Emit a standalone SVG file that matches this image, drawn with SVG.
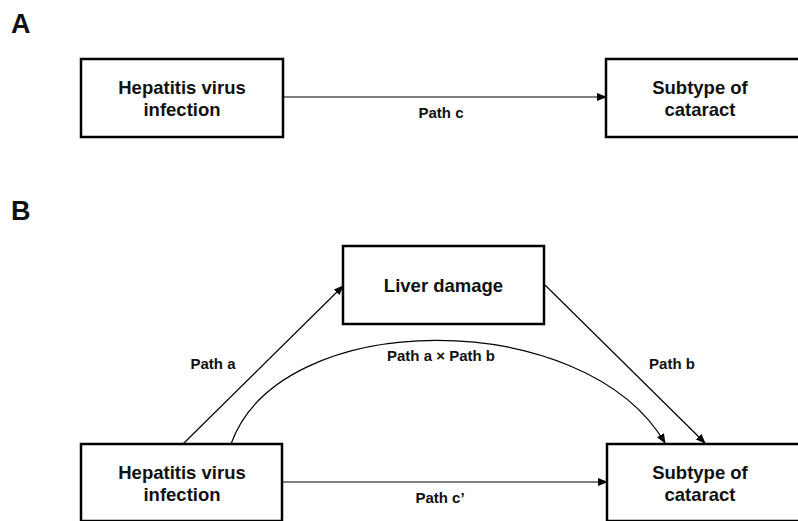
<svg xmlns="http://www.w3.org/2000/svg" width="798" height="521" viewBox="0 0 798 521">
<style>
.box{fill:#fff;stroke:#000;stroke-width:2.5}
.t{font-family:"Liberation Sans",Arial,sans-serif;font-weight:bold;fill:#111;text-anchor:middle}
.n{font-size:18.5px}
.l{font-size:15px}
.h{font-size:27px;text-anchor:start}
.c{fill:none;stroke:#000;stroke-width:1.2}
</style>
<defs>
<marker id="ah" markerWidth="10" markerHeight="8" refX="9" refY="4" orient="auto" markerUnits="userSpaceOnUse">
<path d="M0,0 L10,4 L0,8 z" fill="#000"/>
</marker>
</defs>
<rect width="798" height="521" fill="#fff"/>
<text class="t h" x="11" y="33">A</text>
<text class="t h" x="11" y="220">B</text>
<g id="connectors">
<line class="c" x1="283" y1="97" x2="606" y2="97" marker-end="url(#ah)"/>
<line class="c" x1="282" y1="482" x2="607" y2="482" marker-end="url(#ah)"/>
<line class="c" x1="183" y1="444" x2="343" y2="286" marker-end="url(#ah)"/>
<line class="c" x1="545" y1="285" x2="705" y2="443" marker-end="url(#ah)"/>
<path class="c" d="M231,444 C280,306 585,306 665,443" marker-end="url(#ah)"/>
<text class="t l" x="441" y="118">Path c</text>
<text class="t l" x="213" y="369">Path a</text>
<text class="t l" x="672" y="369">Path b</text>
<text class="t l" x="441" y="361">Path a × Path b</text>
<text class="t l" x="440" y="503">Path c’</text>
</g>
<g id="hepA">
<rect class="box" x="81" y="59" width="202" height="78"/>
<text class="t n" x="182" y="94">Hepatitis virus</text>
<text class="t n" x="182" y="116">infection</text>
</g>
<g id="catA">
<rect class="box" x="606" y="59" width="200" height="78"/>
<text class="t n" x="700" y="94">Subtype of</text>
<text class="t n" x="700" y="116">cataract</text>
</g>
<g id="liver">
<rect class="box" x="343" y="246" width="201" height="78"/>
<text class="t n" x="443.5" y="292">Liver damage</text>
</g>
<g id="hepB">
<rect class="box" x="81" y="444" width="201" height="77"/>
<text class="t n" x="182" y="479">Hepatitis virus</text>
<text class="t n" x="182" y="501">infection</text>
</g>
<g id="catB">
<rect class="box" x="607" y="444" width="200" height="77"/>
<text class="t n" x="700" y="479">Subtype of</text>
<text class="t n" x="700" y="501">cataract</text>
</g>
</svg>
